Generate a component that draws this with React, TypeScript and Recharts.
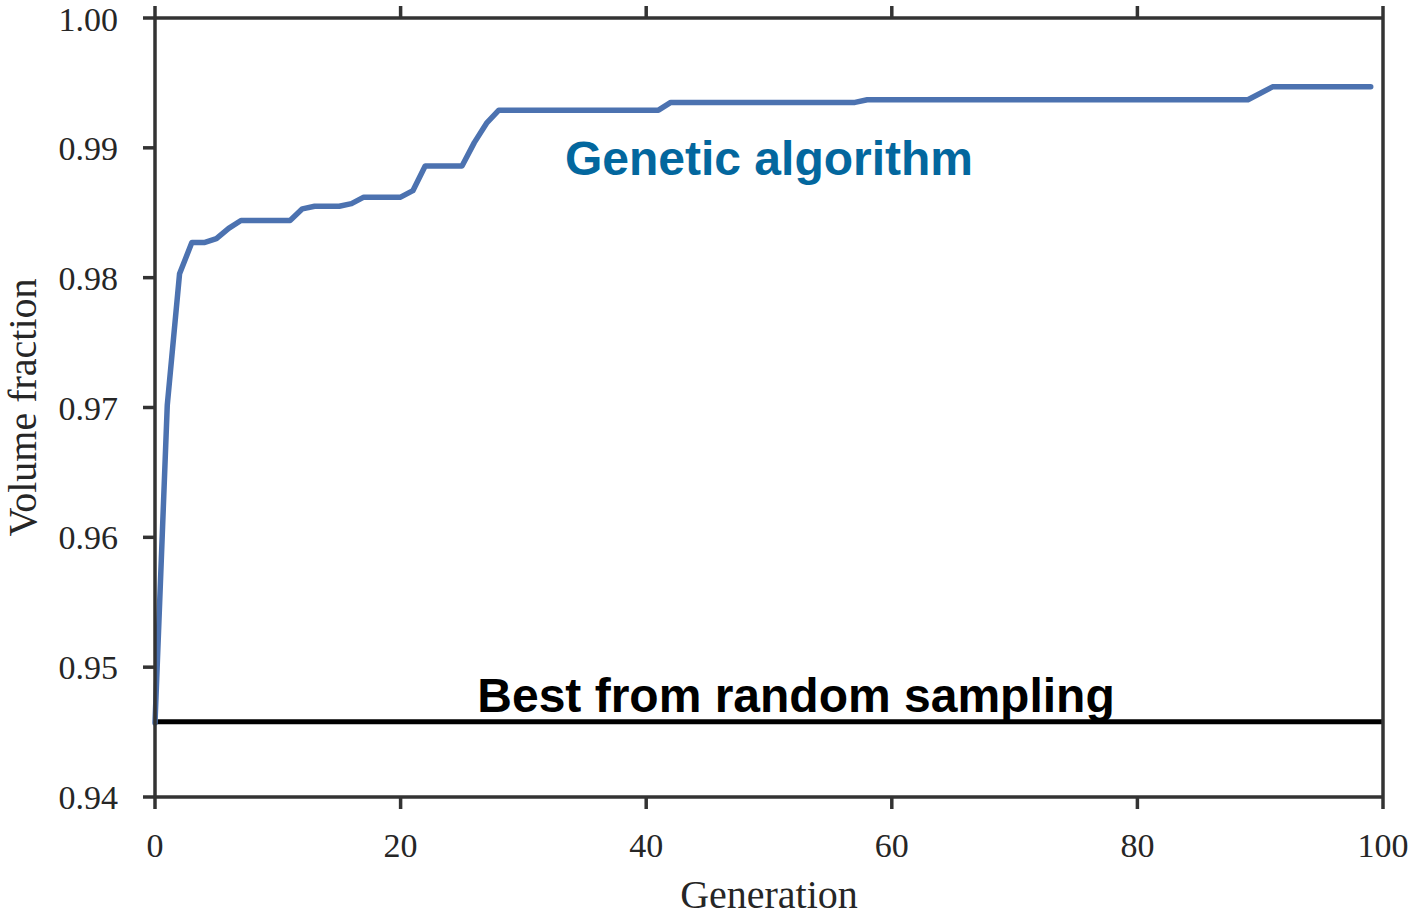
import {
    Line,
    LineChart,
    ReferenceDot,
    ReferenceLine,
    XAxis,
    YAxis,
} from "recharts";

// generations where the best volume fraction changed
const generations = [
    0, 1, 2, 3, 4, 5, 6, 7, 11, 12, 13, 15, 16, 17, 20, 21, 22, 25, 26, 27, 28,
    41, 42, 57, 58, 89, 91, 99,
];
const bestFraction = [
    0.9457, 0.9702, 0.9803, 0.9827, 0.9827, 0.983, 0.9838, 0.9844, 0.9844,
    0.9853, 0.9855, 0.9855, 0.9857, 0.9862, 0.9862, 0.9867, 0.9886, 0.9886,
    0.9904, 0.9919, 0.9929, 0.9929, 0.9935, 0.9935, 0.9937, 0.9937, 0.9947,
    0.9947,
];
const randomBest = 0.9458;

const xTicks = [0, 20, 40, 60, 80, 100];
const yTicks = [0.94, 0.95, 0.96, 0.97, 0.98, 0.99, 1.0];

const data = generations.map((g, i) => ({ gen: g, value: bestFraction[i] }));

const FRAME = "#333333";
const SERIF = "'Liberation Serif', 'DejaVu Serif', serif";
const SANS = "'Liberation Sans', Arial, sans-serif";

const tickStyle = { fontFamily: SERIF, fontSize: 34, fill: "#262626" };
const frameLine = { stroke: FRAME, strokeWidth: 3.5 };

function GaLabel(props: any) {
    const { viewBox } = props;
    return (
        <text
            x={viewBox.x + viewBox.width / 2}
            y={viewBox.y + viewBox.height / 2}
            textAnchor="middle"
            fontFamily={SANS}
            fontWeight="bold"
            fontSize={48}
            fill="#03679e"
        >
            Genetic algorithm
        </text>
    );
}

function RandomLabel(props: any) {
    const { viewBox } = props;
    return (
        <text
            x={viewBox.x + viewBox.width * 0.522}
            y={viewBox.y - 10}
            textAnchor="middle"
            fontFamily={SANS}
            fontWeight="bold"
            fontSize={48}
            fill="#000"
        >
            Best from random sampling
        </text>
    );
}

function YTitle(props: any) {
    const { viewBox } = props;
    const cy = viewBox.y + viewBox.height / 2;
    return (
        <text
            x={36}
            y={cy}
            transform={`rotate(-90 36 ${cy})`}
            textAnchor="middle"
            fontFamily={SERIF}
            fontSize={40}
            fill="#262626"
        >
            Volume fraction
        </text>
    );
}

function XTitle(props: any) {
    const { viewBox } = props;
    return (
        <text
            x={viewBox.x + viewBox.width / 2}
            y={908}
            textAnchor="middle"
            fontFamily={SERIF}
            fontSize={40}
            fill="#262626"
        >
            Generation
        </text>
    );
}

export default function App() {
    return (
        <div style={{ position: "absolute", left: 0, top: 0, background: "#fff" }}>
            <LineChart
                width={1414}
                height={917}
                data={data}
                margin={{ top: 17, right: 30, left: 0, bottom: 0 }}
            >
                <XAxis
                    xAxisId="bottom"
                    dataKey="gen"
                    type="number"
                    domain={[0, 100]}
                    ticks={xTicks}
                    height={120}
                    axisLine={frameLine}
                    tickLine={frameLine}
                    tickSize={12}
                    tickMargin={24}
                    tick={tickStyle}
                    label={<XTitle />}
                />
                <XAxis
                    xAxisId="top"
                    orientation="top"
                    dataKey="gen"
                    type="number"
                    domain={[0, 100]}
                    ticks={xTicks}
                    height={1}
                    axisLine={frameLine}
                    tickLine={frameLine}
                    tickSize={12}
                    tickFormatter={() => ""}
                />
                <YAxis
                    yAxisId="left"
                    type="number"
                    domain={[0.94, 1.0]}
                    ticks={yTicks}
                    width={155}
                    axisLine={frameLine}
                    tickLine={frameLine}
                    tickSize={12}
                    tickMargin={25}
                    tick={tickStyle}
                    tickFormatter={(v: number) => v.toFixed(2)}
                    label={<YTitle />}
                />
                <YAxis
                    yAxisId="right"
                    orientation="right"
                    type="number"
                    domain={[0.94, 1.0]}
                    ticks={yTicks}
                    width={1}
                    axisLine={frameLine}
                    tickLine={frameLine}
                    tickSize={12}
                    tickFormatter={() => ""}
                />
                <ReferenceLine
                    xAxisId="bottom"
                    yAxisId="left"
                    y={randomBest}
                    stroke="#000"
                    strokeWidth={5}
                    label={<RandomLabel />}
                />
                <Line
                    xAxisId="bottom"
                    yAxisId="left"
                    dataKey="value"
                    type="linear"
                    stroke="#4c72b0"
                    strokeWidth={5.5}
                    strokeLinejoin="round"
                    strokeLinecap="round"
                    dot={false}
                    isAnimationActive={false}
                />
                <ReferenceDot
                    xAxisId="bottom"
                    yAxisId="left"
                    x={50}
                    y={0.9879}
                    r={0}
                    stroke="none"
                    label={<GaLabel />}
                />
            </LineChart>
        </div>
    );
}
